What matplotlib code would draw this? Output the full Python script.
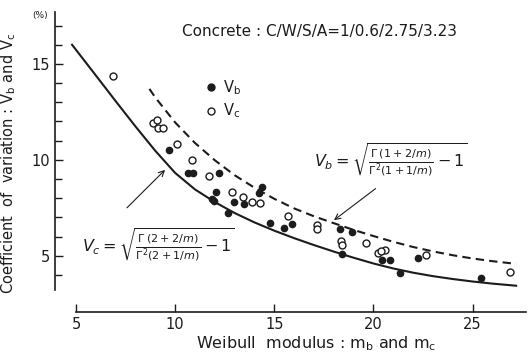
import matplotlib
matplotlib.use('Agg')
import matplotlib.pyplot as plt
from matplotlib.lines import Line2D

# curve V_c (solid)
vc_curve_m = [4.8, 6, 7, 8, 9, 10, 11, 12, 13, 14, 15, 16, 17, 18, 19, 20,
              21, 22, 23, 24, 25, 26, 27.2]
vc_curve_v = [16.0, 14.4, 13.06, 11.74, 10.47, 9.32, 8.46, 7.8, 7.23, 6.74, 6.31,
              5.92, 5.56, 5.22, 4.9, 4.6, 4.34, 4.12, 3.94, 3.79, 3.66, 3.55, 3.44]

# curve V_b (dashed)
vb_curve_m = [8.7, 9, 10, 11, 12, 13, 14, 15, 16, 17, 18, 19, 20, 21, 22, 23,
              24, 25, 26, 27.2]
vb_curve_v = [13.7, 13.25, 11.95, 10.88, 9.98, 9.2, 8.55, 7.97, 7.47, 7.06, 6.7,
              6.35, 6.03, 5.73, 5.46, 5.23, 5.03, 4.86, 4.72, 4.58]

# measured V_b (filled dots)
vb_m = [9.69, 10.65, 10.90, 12.21, 12.06, 11.85, 11.96, 12.96, 13.47, 12.66,
        14.37, 14.22, 14.78, 15.89, 15.48, 18.31, 18.91, 18.41, 20.42, 20.83,
        22.24, 21.33, 25.41]
vb_v = [10.52, 9.32, 9.32, 9.32, 8.33, 7.97, 7.86, 7.81, 7.71, 7.24,
        8.59, 8.28, 6.72, 6.67, 6.46, 6.41, 6.25, 5.10, 4.79, 4.79,
        4.90, 4.11, 3.85]

# measured V_c (open circles)
vc_m = [6.86, 8.88, 9.08, 9.13, 9.39, 10.09, 10.85, 11.70, 12.86, 13.42,
        13.87, 14.27, 15.69, 17.15, 17.15, 18.36, 18.41, 19.62, 20.22, 20.57,
        20.37, 22.64, 26.87]
vc_v = [14.38, 11.93, 12.08, 11.67, 11.67, 10.83, 10.00, 9.17, 8.33, 8.07,
        7.81, 7.76, 7.08, 6.61, 6.41, 5.78, 5.57, 5.68, 5.16, 5.31,
        5.26, 5.05, 4.17]

ink = '#1c1c1c'
plt.rcParams['font.family'] = ['DejaVu Sans']
plt.rcParams['mathtext.fontset'] = 'dejavusans'

fig = plt.figure(figsize=(5.3, 3.55), dpi=100)
ax = fig.add_axes([0.1038, 0.1211, 0.8925, 0.8555])

ax.plot(vc_curve_m, vc_curve_v, '-', color=ink, lw=1.5)
ax.plot(vb_curve_m, vb_curve_v, '--', color=ink, lw=1.5, dashes=(4, 2.5))
ax.plot(vb_m, vb_v, 'o', color=ink, ms=4.5, ls='none')
ax.plot(vc_m, vc_v, 'o', mfc='white', mec=ink, mew=1.0, ms=5, ls='none')

ax.set_xlim(3.94, 27.8)
ax.set_ylim(2.07, 17.9)

for s in ['top', 'right']:
    ax.spines[s].set_visible(False)
ax.spines['left'].set_bounds(3.2, 17.7)
ax.spines['bottom'].set_bounds(5, 27.7)
for s in ['left', 'bottom']:
    ax.spines[s].set_color(ink)
    ax.spines[s].set_linewidth(1.2)

ax.set_xticks([5, 10, 15, 20, 25])
ax.set_yticks([5, 10, 15])
ax.set_yticks(range(4, 18), minor=True)
ax.tick_params(axis='both', which='major', direction='in', length=6, width=1,
               colors=ink, labelsize=10.5)
ax.tick_params(axis='y', which='minor', direction='in', length=5, width=1, colors=ink)

ax.set_xlabel(r'Weibull  modulus : m$_\mathrm{b}$ and m$_\mathrm{c}$', fontsize=11.5, color=ink)
ax.set_ylabel(r'Coefficient  of  variation : V$_\mathrm{b}$ and V$_\mathrm{c}$', fontsize=10.5, color=ink)
ax.xaxis.set_label_coords(0.552, -0.072)
ax.yaxis.set_label_coords(-0.078, 0.49)
ax.text(-0.032, 0.975, '(%)', transform=ax.transAxes, fontsize=6.5, color=ink,
        ha='center', va='center')

ax.text(10.34, 16.67, 'Concrete : C/W/S/A=1/0.6/2.75/3.23', fontsize=11,
        color=ink, ha='left', va='center')

ax.text(17.0, 10.0, r'$V_b=\sqrt{\frac{\Gamma\,(1+2/m)}{\Gamma^2(1+1/m)}-1}$',
        fontsize=11.5, color=ink, ha='left', va='center')
ax.text(5.3, 5.57, r'$V_c=\sqrt{\frac{\Gamma\,(2+2/m)}{\Gamma^2(2+1/m)}-1}$',
        fontsize=11.5, color=ink, ha='left', va='center')

ax.annotate('', xy=(9.59, 9.58), xytext=(7.47, 7.40),
            arrowprops=dict(arrowstyle='->', color=ink, lw=0.8))
ax.annotate('', xy=(17.90, 6.77), xytext=(20.22, 8.59),
            arrowprops=dict(arrowstyle='->', color=ink, lw=0.8))

handles = [Line2D([], [], marker='o', color=ink, ms=5, ls='none'),
           Line2D([], [], marker='o', mfc='white', mec=ink, mew=1.0, ms=5, ls='none')]
ax.legend(handles, [r'V$_\mathrm{b}$', r'V$_\mathrm{c}$'], loc='center left',
          bbox_to_anchor=(0.29, 0.70), frameon=False, handlelength=0.8,
          handletextpad=0.4, labelspacing=0.3, fontsize=10.5, labelcolor=ink)

fig.savefig('out.png', dpi=100)
